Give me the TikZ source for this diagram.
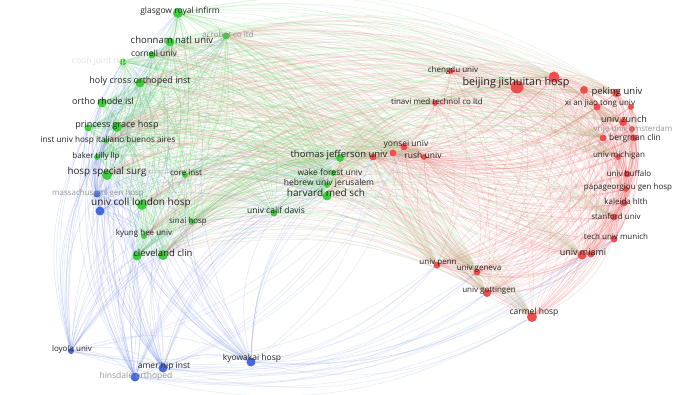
\documentclass[tikz,border=0pt]{standalone}
\usepackage{fontspec}
\newfontfamily\lblfont{Open Sans}
\usetikzlibrary{backgrounds}

\definecolor{gdot}{RGB}{60,205,60}
\definecolor{rdot}{RGB}{238,78,78}
\definecolor{bdot}{RGB}{72,104,222}
\definecolor{gline}{RGB}{110,215,110}
\definecolor{rline}{RGB}{242,125,125}
\definecolor{bline}{RGB}{110,138,230}
\definecolor{ink}{RGB}{35,35,35}
\definecolor{dim}{RGB}{150,150,150}
\definecolor{pale}{RGB}{225,225,225}

\begin{document}
\begin{tikzpicture}[x=1pt,y=-1pt]
\tikzstyle{dot} = [circle, inner sep=0pt]
\tikzstyle{lbl} = [inner sep=0pt, anchor=center]
\tikzstyle{gedge} = [draw=gline, line width=0.5pt, opacity=0.32]
\tikzstyle{redge} = [draw=rline, line width=0.5pt, opacity=0.28]
\tikzstyle{bedge} = [draw=bline, line width=0.5pt, opacity=0.24]

\useasboundingbox (0,0) rectangle (680,395);

\foreach \nm/\px/\py/\sz in {glasgow/178/13/10, acrobot/226/36/7, chonnam/170/42/9, cornell/152/55/7,
  coon/123/62/7, holycross/140/83/9, ortho/102/103/9, princess/117/127/10, princessb/88/128/7,
  italiano/106/141/5, baker/97/157/6, hss/107/175/10, core/185/175/6, uclh/142/205/10,
  sinai/192/222/6, kyung/144/236/6, cleve/137/256/9, cleveb/163/255/10, jefferson/340/158/8,
  wake/333/173/6, hebrew/327/185/6, harvard/327/196/9, davis/274/213/7}
  \node[dot, fill=gdot, minimum size=\sz pt] (\nm) at (\px,\py) {};

\foreach \nm/\px/\py/\sz in {beijing/517/87/13, beijingb/554/77/11, chengdu/451/71/6, tinavi/435/103/6,
  pekinga/584/90/8, peking/616/93/8, xian/597/107/7, xianb/631/107/6, zurich/623/122/8,
  vrije/632/129/6, bergman/603/138/7, bergmanb/634/138/7, michigan/618/157/6, buffalo/627/174/7,
  papa/626/189/6, kaleida/624/203/7, stanford/614/217/7, munich/614/239/7, miami/582/255/9,
  miamib/591/254/7, penn/437/265/7, geneva/477/272/7, gottingen/487/293/8, carmel/532/317/10,
  yonsei/404/147/7, yonseib/393/153/7, jeffred/373/157/7, rush/424/157/6}
  \node[dot, fill=rdot, minimum size=\sz pt] (\nm) at (\px,\py) {};

\foreach \nm/\px/\py/\sz in {mgh/97/194/7, uclhb/100/211/9, loyola/71/351/6, amer/163/368/9,
  hinsdale/135/377/9, kyowakai/251/362/9}
  \node[dot, fill=bdot, minimum size=\sz pt] (\nm) at (\px,\py) {};

\def\greens{glasgow,acrobot,chonnam,cornell,coon,holycross,ortho,princess,princessb,italiano,baker,hss,core,uclh,sinai,kyung,cleve,cleveb,jefferson,wake,hebrew,harvard,davis}
\def\reds{beijing,beijingb,chengdu,tinavi,pekinga,peking,xian,xianb,zurich,vrije,bergman,bergmanb,michigan,buffalo,papa,kaleida,stanford,munich,miami,miamib,penn,geneva,gottingen,carmel,yonsei,yonseib,jeffred,rush}
\def\blues{mgh,uclhb,loyola,amer,hinsdale,kyowakai}
\def\lowblues{loyola,amer,hinsdale,kyowakai}
\def\redhubs{beijing,beijingb,chengdu,tinavi,yonsei,yonseib,jeffred,rush,peking,zurich,bergman,michigan,stanford,miami,penn,geneva,gottingen,carmel}
\def\redlow{carmel,gottingen,geneva,penn,miami,munich,jeffred,yonsei}

\begin{pgfonlayer}{background}
\fill[white] (0,0) rectangle (680,395);
\foreach \a [count=\i] in \greens {
  \foreach \b [count=\j] in \greens {
    \ifnum\j>\i \draw[gedge] (\a) to[bend left=22] (\b); \fi
  }
}
\foreach \a [count=\i] in \reds {
  \foreach \b [count=\j] in \reds {
    \ifnum\j>\i \draw[redge] (\a) to[bend left=22] (\b); \fi
  }
}
\foreach \a [count=\i] in \greens {
  \foreach \b in \redhubs {
    \ifodd\i \draw[gedge, opacity=0.2] (\a) to[bend left=22] (\b);
    \else \draw[redge, opacity=0.2] (\a) to[bend left=22] (\b); \fi
  }
}
\foreach \a in \blues {
  \foreach \b in \greens {\draw[bedge] (\a) to[bend left=22] (\b);}
}
\foreach \a in \redlow {
  \foreach \b in \lowblues {\draw[bedge, opacity=0.18] (\a) to[bend left=22] (\b);}
}
\foreach \a [count=\i] in \blues {
  \foreach \b [count=\j] in \blues {
    \ifnum\j>\i \draw[bedge] (\a) to[bend left=22] (\b); \fi
  }
}
\end{pgfonlayer}

\foreach \nm/\px/\py/\fs/\tc/\txt in {glasgow/180/11/8.5/ink/glasgow royal infirm,
  acrobot/228/35/8/dim/acrobot co ltd, chonnam/172/40/9.5/ink/chonnam natl univ,
  cornell/154/53/8.5/ink/cornell univ, coon/126/61/8.5/pale/coon joint replacement inst,
  holycross/140/81/9/ink/holy cross orthoped inst, ortho/103/101/9/ink/ortho rhode isl,
  princess/117/125/9/ink/princess grace hosp, italiano/108/140/8.2/ink/inst univ hosp italiano buenos aires,
  baker/96/156/8/ink/baker tilly llp, hss/107/172/9.8/ink/hosp special surg,
  core/186/173/8/ink/core inst, mgh/98/193/8/dim/massachusetts gen hosp,
  uclh/141/203/10/ink/univ coll london hosp, sinai/188/221/8/ink/sinai hosp,
  kyung/144/233/8/ink/kyung hee univ, cleveb/163/253/9.5/ink/cleveland clin,
  jefferson/339/155/9.5/ink/thomas jefferson univ, wake/330/172/8.5/ink/wake forest univ,
  hebrew/329/183/8.5/ink/hebrew univ jerusalem, harvard/326/193/10/ink/harvard med sch,
  davis/276/210/8.5/ink/univ calif davis, yonsei/406/144/8.5/ink/yonsei univ,
  rush/423/155/8.5/ink/rush univ, chengdu/453/70/8/ink/chengdu univ,
  beijing/516/83/10.8/ink/beijing jishuitan hosp, tinavi/437/102/8/ink/tinavi med technol co ltd,
  peking/617/92/9.5/ink/peking univ, xian/600/104/8/ink/xi an jiao tong univ,
  zurich/624/119/9/ink/univ zurich, vrije/633/129/8/dim/vrije univ amsterdam,
  bergmanb/635/138/8.5/ink/bergman clin, michigan/619/155/8/ink/univ michigan,
  buffalo/629/173/8/ink/univ buffalo, papa/628/187/8/ink/papageorgiou gen hosp,
  kaleida/626/202/8/ink/kaleida hlth, stanford/616/216/8/ink/stanford univ,
  munich/616/237/8/ink/tech univ munich, miami/583/252/9/ink/univ miami,
  penn/438/263/8/ink/univ penn, geneva/479/269/8/ink/univ geneva,
  gottingen/489/291/8/ink/univ gottingen, carmel/534/312/8.5/ink/carmel hosp,
  loyola/72/349/8/ink/loyola univ, amer/164/366/8.5/ink/amer hip inst,
  hinsdale/136/376/8.5/dim/hinsdale orthoped, kyowakai/252/358/8.5/ink/kyowakai hosp}
  \node[lbl, text=\tc, font=\lblfont\fontsize{\fs}{\fs}\selectfont] (\nm-t) at (\px,\py) {\txt};

\end{tikzpicture}
\end{document}
